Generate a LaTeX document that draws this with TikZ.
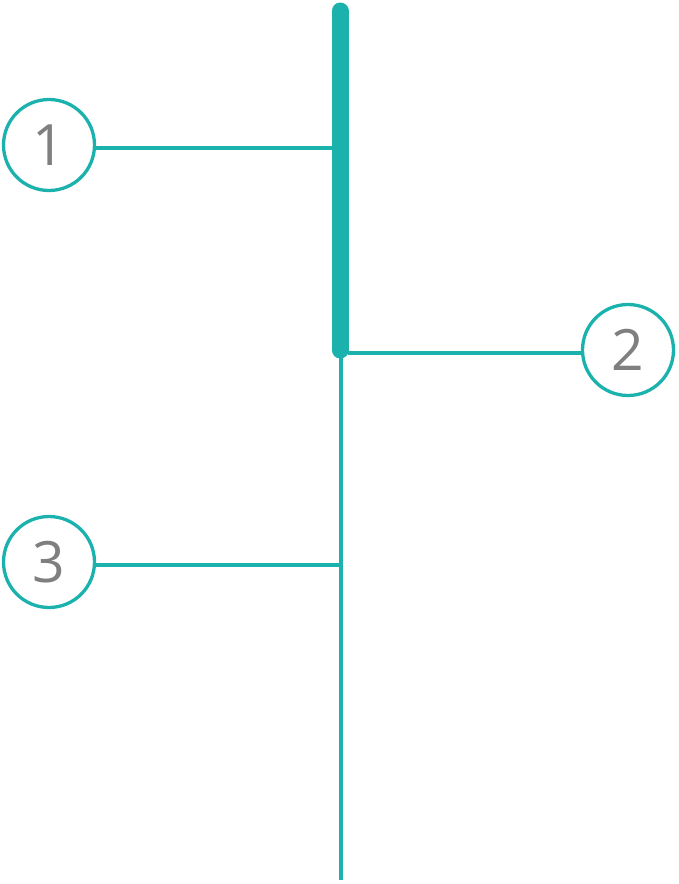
\documentclass[tikz,border=0pt]{standalone}
\usepackage{fontspec}
\setmainfont{Open Sans}
\definecolor{teal1}{HTML}{1BB2AE}
\definecolor{txtgray}{HTML}{7F7F7F}
\begin{document}
\begin{tikzpicture}[x=1pt,y=-1pt,
  numcirc/.style={circle,draw=teal1,line width=3.3pt,minimum size=91pt,inner sep=0pt,
    font=\fontsize{57}{57}\selectfont,text=txtgray},
  conn/.style={draw=teal1,line width=4.5pt}]
\useasboundingbox (0,0) rectangle (678,884);
\coordinate (bartop) at (340,11);
\coordinate (barbot) at (340,350);
\coordinate (linetop) at (341,352);
\coordinate (linebot) at (341,880);
\draw[teal1,line width=17pt,line cap=round] (bartop) -- (barbot);
\draw[teal1,line width=4.5pt] (linetop) -- (linebot);
\node[numcirc] (c1) at (49,145) {1};
\node[numcirc] (c2) at (628,350) {2};
\node[numcirc] (c3) at (49,562) {3};
\coordinate (j1) at (333,148);
\coordinate (j2) at (348,353);
\coordinate (j3) at (341,565);
\draw[conn] (c1.east |- j1) -- (j1);
\draw[conn] (j2) -- (c2.west |- j2);
\draw[conn] (c3.east |- j3) -- (j3);
\end{tikzpicture}
\end{document}
